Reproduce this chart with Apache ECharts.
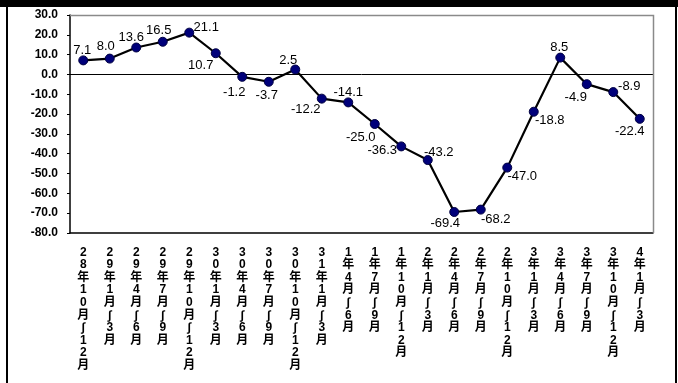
<!DOCTYPE html>
<html>
<head>
<meta charset="utf-8">
<style>
  html, body { margin: 0; padding: 0; background: #fff; }
  #chart { width: 678px; height: 383px; }
</style>
<script src="https://cdn.jsdelivr.net/npm/echarts@6/dist/echarts.min.js"></script>
</head>
<body>
<div id="chart"></div>
<script>
// Quarterly periods (Japanese era year / months)
const categories = [
  '28年10月～12月', '29年1月～3月', '29年4月～6月', '29年7月～9月', '29年10月～12月',
  '30年1月～3月', '30年4月～6月', '30年7月～9月', '30年10月～12月', '31年1月～3月',
  '1年4月～6月', '1年7月～9月', '1年10月～12月', '2年1月～3月', '2年4月～6月',
  '2年7月～9月', '2年10月～12月', '3年1月～3月', '3年4月～6月', '3年7月～9月',
  '3年10月～12月', '4年1月～3月'
];

// Index values per quarter
const values = [
  7.1, 8.0, 13.6, 16.5, 21.1, 10.7, -1.2, -3.7, 2.5, -12.2, -14.1,
  -25.0, -36.3, -43.2, -69.4, -68.2, -47.0, -18.8, 8.5, -4.9, -8.9, -22.4
];

// Value axis range
const yMin = -80;
const yMax = 30;
const yStep = 10;

// Pixel offset of each value label from the centre of its marker
const labelOffsets = [
  [-1, -10], [-4, -12], [-5, -10], [-4, -11], [17, -5], [-15, 12], [-8, 16], [-2, 14],
  [-7, -9], [-16, 11], [0, -10], [-14, 13], [-19, 4], [11, -8], [-9, 11], [15, 10],
  [15, 9], [16, 9], [-1, -10], [-11, 13], [16, -6], [-10, 13]
];

const LATIN = '"Liberation Sans", Arial';
const CJK = '"Noto Sans CJK JP"';

const seriesData = values.map((v, i) => ({
  value: v,
  label: { offset: labelOffsets[i] }
}));

const chart = echarts.init(document.getElementById('chart'));
chart.setOption({
  animation: false,
  backgroundColor: '#fff',
  textStyle: { fontFamily: LATIN + ', ' + CJK + ', sans-serif' },
  graphic: [
    { type: 'rect', shape: { x: 0, y: 0, width: 678, height: 7 }, style: { fill: '#000' }, silent: true },
    { type: 'rect', shape: { x: 6, y: 0, width: 2, height: 383 }, style: { fill: '#000' }, silent: true },
    { type: 'rect', shape: { x: 675, y: 0, width: 2, height: 383 }, style: { fill: '#000' }, silent: true },
    // plot area frame (top and right)
    { type: 'polyline', shape: { points: [[70, 15.5], [653.5, 15.5], [653.5, 233]] },
      style: { stroke: '#8a8a8a', lineWidth: 1.5, fill: null }, silent: true, z: 5 }
  ],
  grid: { left: 70, right: 25, top: 15, bottom: 150, containLabel: false },
  xAxis: {
    type: 'category',
    data: categories,
    boundaryGap: true,
    position: 'bottom',
    axisLine: { onZero: false, lineStyle: { color: '#000', width: 1.5 } },
    axisTick: { show: false },
    axisLabel: {
      interval: 0,
      margin: 13,
      color: '#000',
      fontFamily: LATIN + ', ' + CJK,
      fontSize: 12,
      fontWeight: 'bold',
      lineHeight: 12.6,
      verticalAlign: 'top',
      formatter: s => s.replace(/～/g, '∫').split('').join('\n')
    },
    splitLine: { show: false }
  },
  yAxis: {
    type: 'value',
    min: yMin,
    max: yMax,
    interval: yStep,
    axisLine: { show: true, lineStyle: { color: '#000', width: 1.5 } },
    axisTick: { show: true, length: 3, lineStyle: { color: '#000' } },
    axisLabel: {
      color: '#000',
      fontSize: 12,
      fontWeight: 'bold',
      margin: 12,
      formatter: v => v.toFixed(1)
    },
    splitLine: { show: false }
  },
  series: [{
    type: 'line',
    data: seriesData,
    symbol: 'circle',
    symbolSize: 9,
    itemStyle: { color: '#00007a', borderColor: '#000040', borderWidth: 1 },
    lineStyle: { color: '#000', width: 2.2 },
    label: {
      show: true,
      position: 'inside',
      align: 'center',
      verticalAlign: 'middle',
      color: '#000',
      fontSize: 13,
      formatter: p => p.value.toFixed(1)
    },
    markLine: {
      silent: true,
      symbol: 'none',
      label: { show: false },
      lineStyle: { color: '#000', width: 1, type: 'solid' },
      data: [{ yAxis: 0 }],
      z: 1
    },
    z: 3
  }]
});
</script>
</body>
</html>
